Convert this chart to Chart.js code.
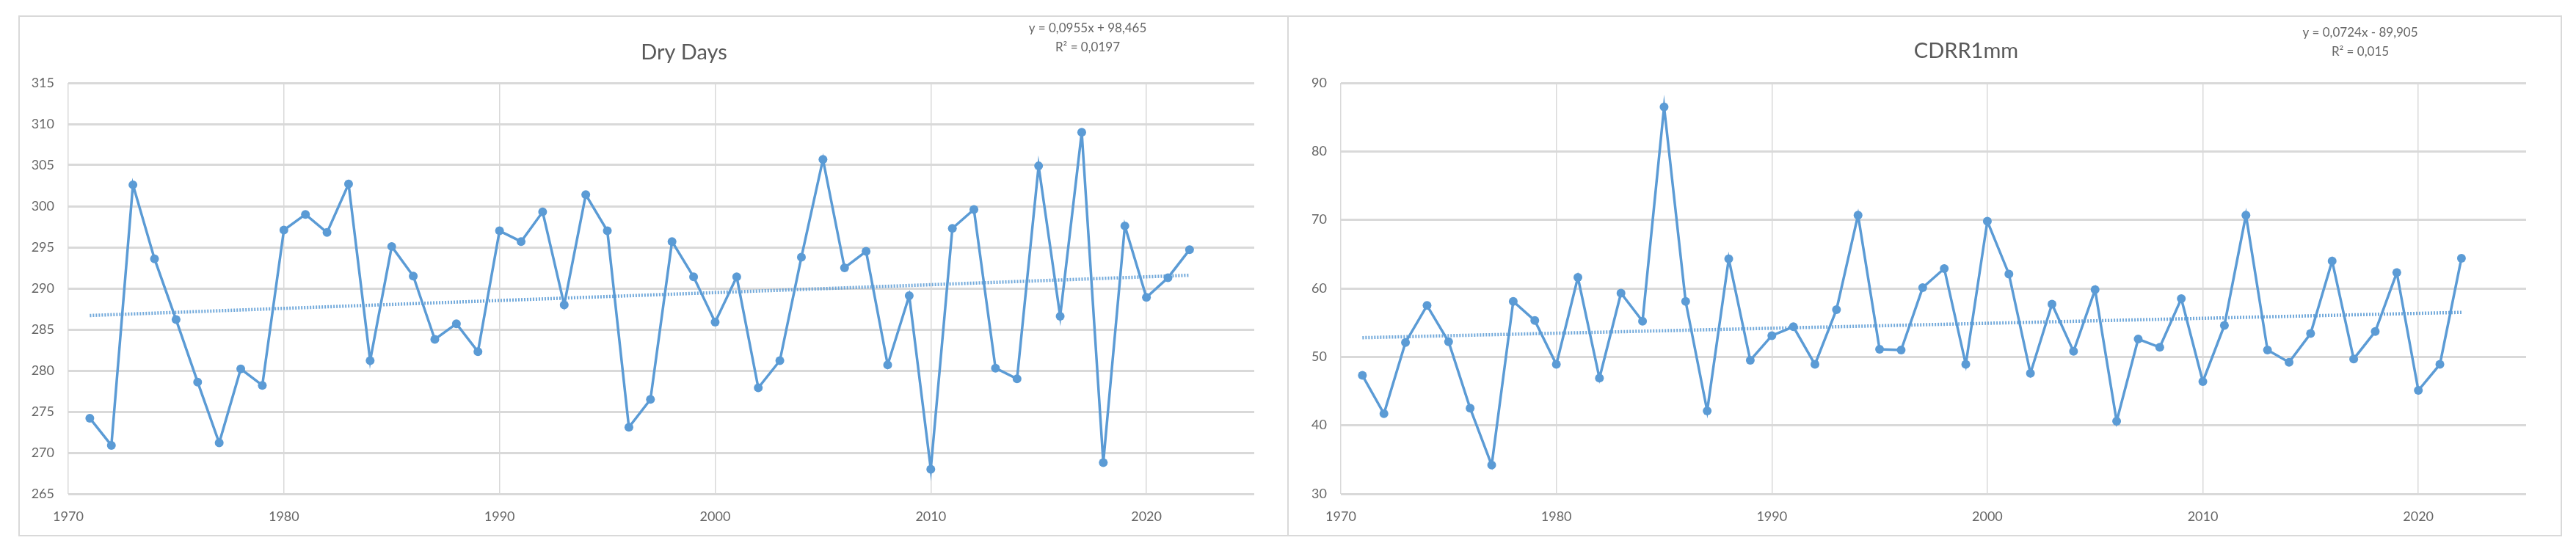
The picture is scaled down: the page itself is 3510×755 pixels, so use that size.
<!DOCTYPE html>
<html>
<head>
<meta charset="utf-8">
<script src="https://cdn.jsdelivr.net/npm/chart.js@4.4.1/dist/chart.umd.min.js"></script>
<style>
  html, body { margin: 0; padding: 0; background: #fff; }
  body { width: 3510px; height: 755px; position: relative; overflow: hidden; }
  .panel { position: absolute; top: 21px; height: 710px; border: 2px solid #d9d9d9; box-sizing: border-box; background: #fff; }
  .panel canvas { display: block; }
</style>
</head>
<body>
<div class="panel" style="left:25px; width:1731px;"><canvas id="dryDaysChart" width="1727" height="706"></canvas></div>
<div class="panel" style="left:1754px; width:1737px;"><canvas id="cdrrChart" width="1733" height="706"></canvas></div>
<script>
// data
const years = [1971, 1972, 1973, 1974, 1975, 1976, 1977, 1978, 1979, 1980,
  1981, 1982, 1983, 1984, 1985, 1986, 1987, 1988, 1989, 1990,
  1991, 1992, 1993, 1994, 1995, 1996, 1997, 1998, 1999, 2000,
  2001, 2002, 2003, 2004, 2005, 2006, 2007, 2008, 2009, 2010,
  2011, 2012, 2013, 2014, 2015, 2016, 2017, 2018, 2019, 2020,
  2021, 2022];

const dryDays = [274.2, 270.9, 302.6, 293.6, 286.2, 278.6, 271.2, 280.2, 278.2, 297.1,
  299.0, 296.8, 302.7, 281.2, 295.1, 291.5, 283.8, 285.7, 282.3, 297.0,
  295.7, 299.3, 288.0, 301.4, 297.0, 273.1, 276.5, 295.7, 291.4, 285.9,
  291.4, 277.9, 281.2, 293.8, 305.7, 292.5, 294.5, 280.7, 289.1, 268.0,
  297.3, 299.6, 280.3, 279.0, 304.9, 286.6, 309.0, 268.8, 297.6, 288.9,
  291.3, 294.7];

const cdrr1mm = [47.3, 41.7, 52.1, 57.5, 52.2, 42.5, 34.2, 58.1, 55.3, 48.9,
  61.6, 46.9, 59.3, 55.2, 86.5, 58.1, 42.1, 64.3, 49.5, 53.1,
  54.4, 48.9, 56.9, 70.7, 51.1, 51.0, 60.1, 62.9, 48.9, 69.8,
  62.1, 47.6, 57.7, 50.8, 59.8, 40.6, 52.6, 51.4, 58.5, 46.4,
  54.6, 70.7, 51.0, 49.2, 53.4, 64.0, 49.7, 53.7, 62.3, 45.1,
  48.9, 64.4];

// linear trend end points (1971 and 2022)
const trendYears = [1971, 2022];
const dryTrend = [286.7, 291.6];
const cdrrTrend = [52.8, 56.5];

const xTicks = [1970, 1980, 1990, 2000, 2010, 2020];
const dryTicks = [265, 270, 275, 280, 285, 290, 295, 300, 305, 310, 315];
const cdrrTicks = [30, 40, 50, 60, 70, 80, 90];

const blue = '#5b9bd5';
const textGray = '#666666';
const fontFamily = 'Lato, "Open Sans", sans-serif';

// titles and trend equations drawn at fixed spots like the Excel chart
const textPlugin = {
  id: 'panelText',
  afterDraw(chart, args, opts) {
    const ctx = chart.ctx;
    ctx.save();
    ctx.textAlign = 'center';
    ctx.textBaseline = 'middle';
    opts.items.forEach(item => {
      ctx.font = item.size + 'px ' + fontFamily;
      ctx.fillStyle = item.color;
      ctx.fillText(item.text, item.x, item.y);
    });
    ctx.restore();
  }
};

function makeChart(id, values, trend, yTicks, padRight, yWidth, items) {
  const ctx = document.getElementById(id).getContext('2d');
  return new Chart(ctx, {
    type: 'line',
    data: {
      datasets: [{
        data: years.map((y, i) => ({ x: y, y: values[i] })),
        borderColor: blue,
        backgroundColor: blue,
        borderWidth: 3.5,
        pointRadius: 6,
        pointBorderWidth: 0,
        tension: 0
      }, {
        data: trendYears.map((y, i) => ({ x: y, y: trend[i] })),
        borderColor: 'rgba(91, 155, 213, 0.85)',
        borderWidth: 4.5,
        borderDash: [2, 2],
        pointRadius: 0
      }]
    },
    options: {
      responsive: false,
      animation: false,
      events: [],
      layout: { padding: { top: 90, right: padRight, left: 0, bottom: 0 } },
      plugins: {
        legend: { display: false },
        tooltip: { enabled: false },
        panelText: { items: items }
      },
      scales: {
        x: {
          type: 'linear',
          min: 1970,
          max: 2025,
          afterBuildTicks: s => { s.ticks = xTicks.map(v => ({ value: v })); },
          afterFit: s => { s.height = 56; },
          grid: { color: '#d9d9d9', lineWidth: 1.5, drawTicks: false },
          border: { display: false },
          ticks: {
            color: textGray,
            font: { family: fontFamily, size: 18 },
            padding: 20,
            maxRotation: 0,
            callback: v => String(v)
          }
        },
        y: {
          min: yTicks[0],
          max: yTicks[yTicks.length - 1],
          afterBuildTicks: s => { s.ticks = yTicks.map(v => ({ value: v })); },
          afterFit: s => { s.width = yWidth; },
          grid: { color: '#d9d9d9', lineWidth: 3, drawTicks: false },
          border: { display: false },
          ticks: {
            color: textGray,
            font: { family: fontFamily, size: 18 },
            padding: 19,
            callback: v => String(v)
          }
        }
      }
    },
    plugins: [textPlugin]
  });
}

const dryDaysChart = makeChart('dryDaysChart', dryDays, dryTrend, dryTicks, 45, 66, [
  { text: 'Dry Days', x: 905, y: 49, size: 29, color: '#595959' },
  { text: 'y = 0,0955x + 98,465', x: 1455, y: 16, size: 17, color: textGray },
  { text: 'R² = 0,0197', x: 1455, y: 42, size: 17, color: textGray }
]);

const cdrrChart = makeChart('cdrrChart', cdrr1mm, cdrrTrend, cdrrTicks, 47, 71, [
  { text: 'CDRR1mm', x: 923, y: 47, size: 29, color: '#595959' },
  { text: 'y = 0,0724x - 89,905', x: 1460, y: 22, size: 17, color: textGray },
  { text: 'R² = 0,015', x: 1460, y: 48, size: 17, color: textGray }
]);
</script>
</body>
</html>
